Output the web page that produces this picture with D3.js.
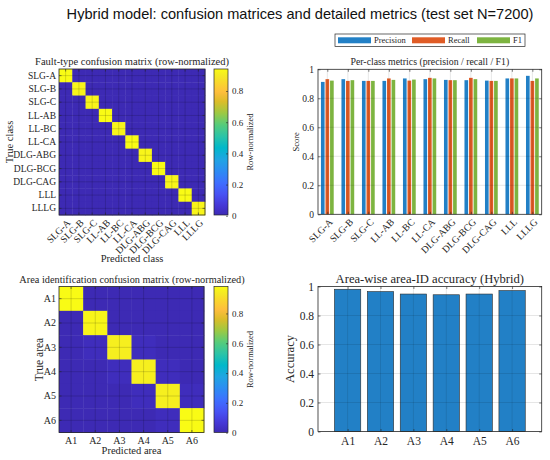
<!DOCTYPE html>
<html>
<head>
<meta charset="utf-8">
<script src="https://cdn.jsdelivr.net/npm/d3@7"></script>
<style>
body { margin: 0; background: #fff; }
text { font-family: "Liberation Serif", "Times New Roman", serif; fill: #262626; }
</style>
</head>
<body>
<div id="chart"></div>
<script>
// ---- data ----
const mainTitle = "Hybrid model: confusion matrices and detailed metrics (test set N=7200)";

const faultClasses = ["SLG-A", "SLG-B", "SLG-C", "LL-AB", "LL-BC", "LL-CA",
                      "DLG-ABG", "DLG-BCG", "DLG-CAG", "LLL", "LLLG"];

// row-normalized fault-type confusion matrix (rows = true, cols = predicted)
const faultCM = [
  [0.932, 0.008, 0.007, 0.006, 0.007, 0.006, 0.008, 0.007, 0.006, 0.007, 0.006],
  [0.009, 0.920, 0.008, 0.008, 0.007, 0.009, 0.008, 0.007, 0.008, 0.008, 0.008],
  [0.008, 0.009, 0.920, 0.007, 0.008, 0.008, 0.007, 0.009, 0.008, 0.008, 0.008],
  [0.006, 0.007, 0.006, 0.937, 0.007, 0.006, 0.006, 0.007, 0.006, 0.006, 0.006],
  [0.008, 0.007, 0.008, 0.009, 0.922, 0.008, 0.007, 0.008, 0.008, 0.007, 0.008],
  [0.006, 0.006, 0.005, 0.006, 0.007, 0.941, 0.006, 0.005, 0.006, 0.006, 0.006],
  [0.007, 0.008, 0.007, 0.008, 0.007, 0.008, 0.925, 0.008, 0.007, 0.008, 0.007],
  [0.006, 0.005, 0.006, 0.006, 0.006, 0.005, 0.007, 0.941, 0.006, 0.006, 0.006],
  [0.008, 0.008, 0.009, 0.008, 0.007, 0.008, 0.008, 0.009, 0.920, 0.007, 0.008],
  [0.006, 0.007, 0.006, 0.006, 0.006, 0.007, 0.006, 0.006, 0.007, 0.937, 0.006],
  [0.008, 0.008, 0.007, 0.008, 0.009, 0.008, 0.008, 0.008, 0.008, 0.008, 0.920]
];

const metricNames = ["Precision", "Recall", "F1"];
const precision = [0.913, 0.932, 0.920, 0.920, 0.937, 0.932, 0.927, 0.925, 0.922, 0.937, 0.955];
const recall    = [0.932, 0.920, 0.920, 0.937, 0.922, 0.941, 0.925, 0.941, 0.920, 0.937, 0.920];
const f1        = [0.922, 0.925, 0.920, 0.927, 0.929, 0.937, 0.925, 0.932, 0.920, 0.937, 0.937];

const areaLabels = ["A1", "A2", "A3", "A4", "A5", "A6"];
const areaCM = [
  [0.981, 0.015, 0.001, 0.001, 0.001, 0.001],
  [0.016, 0.965, 0.015, 0.002, 0.001, 0.001],
  [0.002, 0.024, 0.948, 0.022, 0.002, 0.002],
  [0.001, 0.002, 0.022, 0.943, 0.030, 0.002],
  [0.001, 0.001, 0.002, 0.024, 0.948, 0.024],
  [0.001, 0.001, 0.001, 0.002, 0.023, 0.972]
];
const areaAccuracy = [0.981, 0.965, 0.948, 0.943, 0.948, 0.972];

const scoreTicks = [0, 0.2, 0.4, 0.6, 0.8, 1];
const cbarTicks = [0, 0.2, 0.4, 0.6, 0.8];

// parula colormap stops (MATLAB), expanded to 64 discrete colours
const parulaT = [0, 4, 9, 14, 19, 24, 29, 34, 39, 44, 49, 53, 57, 60, 63].map(i => i / 63);
const parulaRGB = [
  [0.2380, 0.1650, 0.7050], [0.2706, 0.2147, 0.8364], [0.2810, 0.3228, 0.9579],
  [0.2440, 0.4358, 0.9988], [0.1764, 0.5499, 0.9520], [0.1248, 0.6459, 0.8883],
  [0.0036, 0.7203, 0.7917], [0.1717, 0.7670, 0.6554], [0.3406, 0.8008, 0.4789],
  [0.6174, 0.7876, 0.2612], [0.8634, 0.7406, 0.1596], [0.9956, 0.7434, 0.2371],
  [0.9786, 0.8386, 0.1766], [0.9597, 0.9135, 0.1423], [0.9769, 0.9839, 0.0805]
];
const parulaScale = d3.scaleLinear()
  .domain(parulaT)
  .range(parulaRGB.map(c => d3.rgb(c[0] * 255, c[1] * 255, c[2] * 255)))
  .interpolate(d3.interpolateRgb);
const parula = d3.range(64).map(i => parulaScale(i / 63));

const metricColors = ["#2280c6", "#e05c26", "#7db440"];
const axisColor = "#262626";

const svg = d3.select("#chart").append("svg")
  .attr("width", 550)
  .attr("height", 460);

svg.append("text")
  .attr("x", 300).attr("y", 19)
  .attr("text-anchor", "middle")
  .style("font-family", "'Liberation Sans', Arial, sans-serif")
  .style("font-size", "14.6px")
  .style("fill", "#111")
  .text(mainTitle);

const defs = svg.append("defs");

// strip d3 axis default font so our own styles win
function cleanAxis(sel, size) {
  sel.attr("font-family", null).attr("font-size", null).attr("color", axisColor);
  sel.selectAll("line").attr("stroke-width", 0.6);
  sel.selectAll("text").style("font-size", size + "px");
  sel.select(".domain").remove();
}

function confusionPanel(o) {
  const g = svg.append("g");
  const x = d3.scaleBand().domain(o.labels).range([o.x, o.x + o.w]);
  const y = d3.scaleBand().domain(o.labels).range([o.y, o.y + o.h]);
  const cells = o.data.flatMap((row, i) => row.map((v, j) => ({ r: o.labels[i], c: o.labels[j], v })));
  const [cmin, cmax] = d3.extent(cells, d => d.v);
  const colorOf = v => parula[Math.min(63, Math.floor((v - cmin) / (cmax - cmin) * 64))];

  g.selectAll("rect.cell")
    .data(cells)
    .join("rect")
      .attr("class", "cell")
      .attr("x", d => x(d.c))
      .attr("y", d => y(d.r))
      .attr("width", x.bandwidth() + 0.4)
      .attr("height", y.bandwidth() + 0.4)
      .attr("fill", d => colorOf(d.v));

  // grid at tick positions (cell centres)
  g.selectAll("line.gx")
    .data(o.labels)
    .join("line")
      .attr("x1", d => x(d) + x.bandwidth() / 2).attr("x2", d => x(d) + x.bandwidth() / 2)
      .attr("y1", o.y).attr("y2", o.y + o.h)
      .attr("stroke", "#000").attr("stroke-opacity", 0.25).attr("stroke-width", 0.6);
  g.selectAll("line.gy")
    .data(o.labels)
    .join("line")
      .attr("y1", d => y(d) + y.bandwidth() / 2).attr("y2", d => y(d) + y.bandwidth() / 2)
      .attr("x1", o.x).attr("x2", o.x + o.w)
      .attr("stroke", "#000").attr("stroke-opacity", 0.25).attr("stroke-width", 0.6);

  // axes (ticks point inward, box on)
  const xb = g.append("g").attr("transform", `translate(0,${o.y + o.h})`)
    .call(d3.axisBottom(x).tickSizeInner(-2.5).tickSizeOuter(0).tickPadding(o.xPad));
  cleanAxis(xb, o.xTickFont);
  g.append("g").attr("transform", `translate(0,${o.y})`)
    .call(d3.axisTop(x).tickSizeInner(-2.5).tickSizeOuter(0).tickFormat(""))
    .call(cleanAxis, o.tickFont);
  const yl = g.append("g").attr("transform", `translate(${o.x},0)`)
    .call(d3.axisLeft(y).tickSizeInner(-2.5).tickSizeOuter(0).tickPadding(3));
  cleanAxis(yl, o.tickFont);
  g.append("g").attr("transform", `translate(${o.x + o.w},0)`)
    .call(d3.axisRight(y).tickSizeInner(-2.5).tickSizeOuter(0).tickFormat(""))
    .call(cleanAxis, o.tickFont);

  if (o.rotate) {
    xb.selectAll("text")
      .attr("x", 0).attr("y", 0).attr("dy", "0.35em")
      .attr("text-anchor", "end")
      .attr("transform", "translate(3,6) rotate(-45)");
  }

  g.append("rect")
    .attr("x", o.x).attr("y", o.y).attr("width", o.w).attr("height", o.h)
    .attr("fill", "none").attr("stroke", axisColor).attr("stroke-width", 0.8);

  // colorbar
  const gid = "grad" + o.id;
  const grad = defs.append("linearGradient").attr("id", gid)
    .attr("x1", 0).attr("y1", 1).attr("x2", 0).attr("y2", 0);
  grad.selectAll("stop")
    .data(parula)
    .join("stop")
      .attr("offset", (d, i) => i / 63)
      .attr("stop-color", d => d);
  g.append("rect")
    .attr("x", o.cbX).attr("y", o.y).attr("width", o.cbW).attr("height", o.h)
    .attr("fill", `url(#${gid})`)
    .attr("stroke", axisColor).attr("stroke-width", 0.7);
  const cy = d3.scaleLinear().domain([cmin, cmax]).range([o.y + o.h, o.y]);
  g.append("g").attr("transform", `translate(${o.cbX + o.cbW},0)`)
    .call(d3.axisRight(cy).tickValues(cbarTicks).tickSizeInner(-2).tickSizeOuter(0).tickPadding(4)
      .tickFormat(d => d === 0 ? "0" : d3.format(".1f")(d)))
    .call(cleanAxis, 9);
  g.append("text")
    .attr("transform", `translate(${o.cbX + o.cbW + 22},${o.y + o.h / 2}) rotate(-90)`)
    .attr("text-anchor", "middle").attr("dy", "0.35em")
    .style("font-size", "8.5px")
    .text("Row-normalized");

  // titles / labels
  g.append("text")
    .attr("x", o.titleX).attr("y", o.y - 4)
    .attr("text-anchor", "middle")
    .style("font-size", o.titleFont + "px")
    .text(o.title);
  g.append("text")
    .attr("x", o.x + o.w / 2).attr("y", o.xlabelY)
    .attr("text-anchor", "middle")
    .style("font-size", "10.5px")
    .text(o.xlabel);
  g.append("text")
    .attr("transform", `translate(${o.ylabelX},${o.y + o.h / 2}) rotate(-90)`)
    .attr("text-anchor", "middle").attr("dy", "0.35em")
    .style("font-size", o.ylabelFont + "px")
    .text(o.ylabel);
}

function barFrame(o) {
  const g = svg.append("g");
  const y = d3.scaleLinear().domain([0, 1]).range([o.y + o.h, o.y]);
  g.append("rect")
    .attr("x", o.x).attr("y", o.y).attr("width", o.w).attr("height", o.h)
    .attr("fill", "#fff");
  return { g, y };
}

function barDecor(o, g, x, y, xTicks, xTickFmt) {
  // grid drawn over bars, faint
  g.selectAll("line.hg")
    .data(scoreTicks.slice(1, -1))
    .join("line")
      .attr("x1", o.x).attr("x2", o.x + o.w)
      .attr("y1", d => y(d)).attr("y2", d => y(d))
      .attr("stroke", "#000").attr("stroke-opacity", 0.14).attr("stroke-width", 0.7);
  g.selectAll("line.vg")
    .data(xTicks)
    .join("line")
      .attr("x1", d => x(d)).attr("x2", d => x(d))
      .attr("y1", o.y).attr("y2", o.y + o.h)
      .attr("stroke", "#000").attr("stroke-opacity", 0.14).attr("stroke-width", 0.7);

  const yl = g.append("g").attr("transform", `translate(${o.x},0)`)
    .call(d3.axisLeft(y).tickValues(scoreTicks).tickSizeInner(-2.5).tickSizeOuter(0).tickPadding(4)
      .tickFormat(d => d === 0 || d === 1 ? String(d) : d3.format(".1f")(d)));
  cleanAxis(yl, o.tickFont);
  g.append("g").attr("transform", `translate(${o.x + o.w},0)`)
    .call(d3.axisRight(y).tickValues(scoreTicks).tickSizeInner(-2.5).tickSizeOuter(0).tickFormat(""))
    .call(cleanAxis, o.tickFont);
  const xb = g.append("g").attr("transform", `translate(0,${o.y + o.h})`)
    .call(d3.axisBottom(x).tickValues(xTicks).tickSizeInner(-2.5).tickSizeOuter(0).tickPadding(o.xPad)
      .tickFormat(xTickFmt));
  cleanAxis(xb, o.xTickFont);
  g.append("g").attr("transform", `translate(0,${o.y})`)
    .call(d3.axisTop(x).tickValues(xTicks).tickSizeInner(-2.5).tickSizeOuter(0).tickFormat(""))
    .call(cleanAxis, o.tickFont);

  g.append("rect")
    .attr("x", o.x).attr("y", o.y).attr("width", o.w).attr("height", o.h)
    .attr("fill", "none").attr("stroke", axisColor).attr("stroke-width", 0.8);

  g.append("text")
    .attr("x", o.x + o.w / 2).attr("y", o.y - 4)
    .attr("text-anchor", "middle")
    .style("font-size", o.titleFont + "px")
    .text(o.title);
  g.append("text")
    .attr("transform", `translate(${o.ylabelX},${o.y + o.h / 2}) rotate(-90)`)
    .attr("text-anchor", "middle").attr("dy", "0.35em")
    .style("font-size", o.ylabelFont + "px")
    .text(o.ylabel);
  return xb;
}

// ---- top-left: fault-type confusion matrix ----
confusionPanel({
  id: "fault", labels: faultClasses, data: faultCM,
  x: 59, y: 69, w: 146, h: 146, cbX: 214, cbW: 14,
  title: "Fault-type confusion matrix (row-normalized)", titleX: 132, titleFont: 10.5,
  xlabel: "Predicted class", xlabelY: 262,
  ylabel: "True class", ylabelX: 9.5, ylabelFont: 10.5,
  tickFont: 9.5, xTickFont: 9.8, xPad: 4, rotate: true
});

// ---- bottom-left: area confusion matrix ----
confusionPanel({
  id: "area", labels: areaLabels, data: areaCM,
  x: 59, y: 286.5, w: 145, h: 146, cbX: 214, cbW: 14,
  title: "Area identification confusion matrix (row-normalized)", titleX: 132, titleFont: 10.3,
  xlabel: "Predicted area", xlabelY: 453.5,
  ylabel: "True area", ylabelX: 39, ylabelFont: 11.5,
  tickFont: 10, xTickFont: 10, xPad: 4, rotate: false
});

// ---- top-right: per-class metrics ----
const pm = { x: 318, y: 69.3, w: 223.7, h: 145, title: "Per-class metrics (precision / recall / F1)",
             titleFont: 9.8, ylabel: "Score", ylabelX: 296, ylabelFont: 8.5, tickFont: 9.5, xTickFont: 9.8, xPad: 4 };
const metricSeries = [precision, recall, f1];
const xm = d3.scaleLinear().domain([0.545, 11.455]).range([pm.x, pm.x + pm.w]);
const pmf = barFrame(pm);
const groupStep = 0.2222, barW = 0.178;
const metricBars = metricSeries.flatMap((s, k) => s.map((v, i) => ({ k, i, v })));
pmf.g.selectAll("rect.mbar")
  .data(metricBars)
  .join("rect")
    .attr("x", d => xm(d.i + 1 + (d.k - 1) * groupStep - barW / 2))
    .attr("width", xm(barW) - xm(0))
    .attr("y", d => pmf.y(d.v))
    .attr("height", d => pmf.y(0) - pmf.y(d.v))
    .attr("fill", d => metricColors[d.k]);
const xmTicks = d3.range(1, faultClasses.length + 1);
const xmAxis = barDecor(pm, pmf.g, xm, pmf.y, xmTicks, d => faultClasses[d - 1]);
xmAxis.selectAll("text")
  .attr("x", 0).attr("y", 0).attr("dy", "0.35em")
  .attr("text-anchor", "end")
  .attr("transform", "translate(3,6) rotate(-45)");

// legend
const lg = svg.append("g");
lg.append("rect")
  .attr("x", 335).attr("y", 34).attr("width", 190).attr("height", 12.5)
  .attr("fill", "#fff").attr("stroke", axisColor).attr("stroke-width", 0.7);
const legendX = [338, 412, 477];
metricNames.forEach((name, k) => {
  lg.append("rect")
    .attr("x", legendX[k]).attr("y", 37.3).attr("width", 33).attr("height", 6)
    .attr("fill", metricColors[k]);
  lg.append("text")
    .attr("x", legendX[k] + 36).attr("y", 40.3).attr("dy", "0.35em")
    .style("font-size", "8.5px")
    .text(name);
});

// ---- bottom-right: area-wise accuracy ----
const pa = { x: 318, y: 286.5, w: 223.7, h: 145, title: "Area-wise area-ID accuracy (Hybrid)",
             titleFont: 12.6, ylabel: "Accuracy", ylabelX: 290, ylabelFont: 12.5, tickFont: 11.5, xTickFont: 11.5, xPad: 5 };
const xa = d3.scaleLinear().domain([0.1, 6.9]).range([pa.x, pa.x + pa.w]);
const paf = barFrame(pa);
paf.g.selectAll("rect.abar")
  .data(areaAccuracy)
  .join("rect")
    .attr("x", (d, i) => xa(i + 1 - 0.4))
    .attr("width", xa(0.8) - xa(0))
    .attr("y", d => paf.y(d))
    .attr("height", d => paf.y(0) - paf.y(d))
    .attr("fill", metricColors[0])
    .attr("stroke", "#2b2b2b").attr("stroke-width", 0.6);
barDecor(pa, paf.g, xa, paf.y, d3.range(1, areaLabels.length + 1), d => areaLabels[d - 1]);
</script>
</body>
</html>
